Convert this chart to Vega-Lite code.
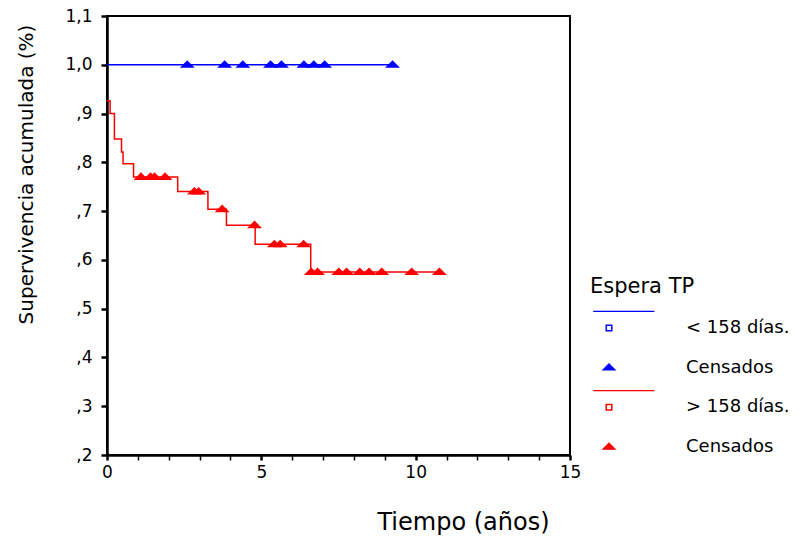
{
  "$schema": "https://vega.github.io/schema/vega-lite/v6.json",
  "width": 463,
  "height": 439,
  "autosize": {"type": "none"},
  "padding": {"left": 107, "top": 16, "right": 241, "bottom": 85},
  "background": "white",
  "config": {
    "font": "DejaVu Sans",
    "view": {"stroke": "#000000", "strokeWidth": 2},
    "axis": {
      "grid": false,
      "domainColor": "#000000",
      "domainWidth": 2.5,
      "tickColor": "#000000",
      "labelColor": "#000000",
      "labelFont": "DejaVu Sans",
      "labelFontSize": 17,
      "labelFlush": false,
      "labelOverlap": false,
      "titleColor": "#000000",
      "titleFont": "DejaVu Sans",
      "titleFontWeight": "normal"
    }
  },
  "resolve": {"axis": {"x": "independent"}},
  "datasets": {
    "curves": [
      {"grp": "lt", "t": 0, "s": 1.0},
      {"grp": "lt", "t": 9.25, "s": 1.0},
      {"grp": "gt", "t": 0, "s": 0.926},
      {"grp": "gt", "t": 0.1, "s": 0.9},
      {"grp": "gt", "t": 0.24, "s": 0.848},
      {"grp": "gt", "t": 0.47, "s": 0.821},
      {"grp": "gt", "t": 0.52, "s": 0.797},
      {"grp": "gt", "t": 0.86, "s": 0.77},
      {"grp": "gt", "t": 2.29, "s": 0.74},
      {"grp": "gt", "t": 3.27, "s": 0.704},
      {"grp": "gt", "t": 3.87, "s": 0.671},
      {"grp": "gt", "t": 4.8, "s": 0.632},
      {"grp": "gt", "t": 6.6, "s": 0.575},
      {"grp": "gt", "t": 10.77, "s": 0.575}
    ],
    "censored": [
      {"key": "lt_c", "t": 2.6, "s": 1.0},
      {"key": "lt_c", "t": 3.81, "s": 1.0},
      {"key": "lt_c", "t": 4.4, "s": 1.0},
      {"key": "lt_c", "t": 5.3, "s": 1.0},
      {"key": "lt_c", "t": 5.65, "s": 1.0},
      {"key": "lt_c", "t": 6.38, "s": 1.0},
      {"key": "lt_c", "t": 6.7, "s": 1.0},
      {"key": "lt_c", "t": 7.05, "s": 1.0},
      {"key": "lt_c", "t": 9.25, "s": 1.0},
      {"key": "gt_c", "t": 1.1, "s": 0.77},
      {"key": "gt_c", "t": 1.41, "s": 0.77},
      {"key": "gt_c", "t": 1.54, "s": 0.77},
      {"key": "gt_c", "t": 1.88, "s": 0.77},
      {"key": "gt_c", "t": 2.83, "s": 0.74},
      {"key": "gt_c", "t": 2.97, "s": 0.74},
      {"key": "gt_c", "t": 3.73, "s": 0.704},
      {"key": "gt_c", "t": 4.78, "s": 0.671},
      {"key": "gt_c", "t": 5.42, "s": 0.632},
      {"key": "gt_c", "t": 5.61, "s": 0.632},
      {"key": "gt_c", "t": 6.37, "s": 0.632},
      {"key": "gt_c", "t": 6.62, "s": 0.575},
      {"key": "gt_c", "t": 6.82, "s": 0.575},
      {"key": "gt_c", "t": 7.51, "s": 0.575},
      {"key": "gt_c", "t": 7.76, "s": 0.575},
      {"key": "gt_c", "t": 8.19, "s": 0.575},
      {"key": "gt_c", "t": 8.49, "s": 0.575},
      {"key": "gt_c", "t": 8.9, "s": 0.575},
      {"key": "gt_c", "t": 9.87, "s": 0.575},
      {"key": "gt_c", "t": 10.77, "s": 0.575}
    ]
  },
  "layer": [
    {
      "data": {"name": "curves"},
      "mark": {"type": "line", "interpolate": "step-after", "strokeWidth": 1.5},
      "encoding": {
        "x": {
          "field": "t", "type": "quantitative",
          "scale": {"domain": [0, 15], "nice": false, "zero": false},
          "axis": {
            "orient": "bottom",
            "values": [0, 5, 10, 15],
            "labelOverlap": false,
            "tickSize": 5, "tickWidth": 2.5, "labelPadding": 4,
            "title": "Tiempo (años)", "titleFontSize": 24,
            "titleX": 356, "titleY": 74, "titleAlign": "center", "titleBaseline": "alphabetic"
          }
        },
        "y": {
          "field": "s", "type": "quantitative",
          "scale": {"domain": [0.2, 1.1], "nice": false, "zero": false},
          "axis": {
            "values": [0.2,0.3,0.4,0.5,0.6,0.7,0.8,0.9,1.0,1.1],
            "labelExpr": "datum.value >= 0.99 ? replace(format(datum.value, '.1f'), '.', ',') : replace(format(datum.value, '.1f'), '0.', ',')",
            "labelOverlap": false,
            "tickSize": 6, "tickWidth": 2.5, "labelPadding": 9,
            "title": "Supervivencia acumulada (%)", "titleFontSize": 20,
            "titleAngle": -90, "titleX": -81, "titleY": 158, "titleAlign": "center", "titleBaseline": "middle"
          }
        },
        "stroke": {
          "field": "grp", "type": "nominal",
          "scale": {"domain": ["lt", "gt"], "range": ["#0000ff", "#ff0000"]},
          "legend": null
        }
      }
    },
    {
      "data": {"name": "censored"},
      "mark": {"type": "point", "filled": true, "size": 225, "opacity": 1, "strokeWidth": 0},
      "encoding": {
        "x": {
          "field": "t", "type": "quantitative",
          "axis": {
            "orient": "bottom",
            "values": [1,2,3,4,6,7,8,9,11,12,13,14],
            "labels": false, "domain": false, "title": null,
            "tickSize": 5, "tickWidth": 1.5
          }
        },
        "y": {"field": "s", "type": "quantitative"},
        "color": {
          "field": "key", "type": "nominal",
          "scale": {"domain": ["lt", "lt_c", "gt", "gt_c"], "range": ["#0000ff", "#0000ff", "#ff0000", "#ff0000"]},
          "legend": {
            "orient": "none", "legendX": 483, "legendY": 260,
            "title": "Espera TP", "titleFont": "DejaVu Sans", "titleFontSize": 21, "titleFontWeight": "normal", "titleColor": "#000000", "titlePadding": 22,
            "labelFont": "DejaVu Sans", "labelFontSize": 18, "labelColor": "#000000", "labelOffset": 68, "labelLimit": 300,
            "labelExpr": "datum.value == 'lt' ? '< 158 días.' : datum.value == 'gt' ? '> 158 días.' : 'Censados'",
            "symbolOffset": 10, "symbolSize": 225, "symbolStrokeWidth": 0, "symbolOpacity": 1, "rowPadding": 12.6, "padding": 0
          }
        },
        "shape": {
          "field": "key", "type": "nominal",
          "scale": {"domain": ["lt", "lt_c", "gt", "gt_c"], "range": [
            "M-0.47,-0.47L0.47,-0.47L0.47,0.47L-0.47,0.47Z M-0.27,-0.27L-0.27,0.27L0.27,0.27L0.27,-0.27Z M-2.1,-2.3L6.05,-2.3L6.05,-2.14L-2.1,-2.14Z",
            "M-1,0.4L0,-0.62L1,0.4Z M0,-2.3L0,-2.3Z",
            "M-0.47,-0.47L0.47,-0.47L0.47,0.47L-0.47,0.47Z M-0.27,-0.27L-0.27,0.27L0.27,0.27L0.27,-0.27Z M-2.1,-2.3L6.05,-2.3L6.05,-2.14L-2.1,-2.14Z",
            "M-1,0.4L0,-0.62L1,0.4Z M0,-2.3L0,-2.3Z"
          ]},
          "legend": {
            "orient": "none", "legendX": 483, "legendY": 260,
            "title": "Espera TP", "titleFont": "DejaVu Sans", "titleFontSize": 21, "titleFontWeight": "normal", "titleColor": "#000000", "titlePadding": 22,
            "labelFont": "DejaVu Sans", "labelFontSize": 18, "labelColor": "#000000", "labelOffset": 68, "labelLimit": 300,
            "labelExpr": "datum.value == 'lt' ? '< 158 días.' : datum.value == 'gt' ? '> 158 días.' : 'Censados'",
            "symbolOffset": 10, "symbolSize": 225, "symbolStrokeWidth": 0, "symbolOpacity": 1, "rowPadding": 12.6, "padding": 0
          }
        }
      }
    }
  ]
}
